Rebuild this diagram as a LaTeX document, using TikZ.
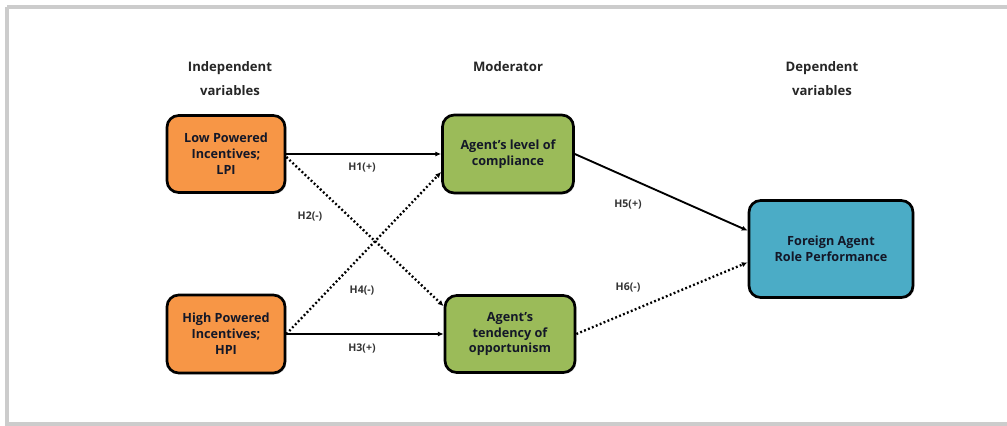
\documentclass[tikz,border=0pt]{standalone}
\usepackage{fontspec}
\setmainfont{Open Sans}
\usepackage{xcolor}
\usetikzlibrary{arrows.meta, positioning, calc, shadows}
\definecolor{ipiorange}{RGB}{247,150,70}
\definecolor{modgreen}{RGB}{155,187,89}
\definecolor{depblue}{RGB}{75,172,198}
\definecolor{framegray}{RGB}{204,204,204}
\definecolor{boxtext}{RGB}{20,24,40}

\begin{document}
\begin{tikzpicture}[
  x=0.03cm, y=-0.03cm,
  var/.style={draw=black, line width=2.3pt, rounded corners=10pt, align=center,
              font=\fontsize{10.8}{13.6}\selectfont\bfseries, text=boxtext,
              drop shadow={shadow xshift=1.2pt, shadow yshift=-1.2pt, opacity=0.35}},
  arrow/.style={-{Latex[length=5pt,width=4.5pt]}, line width=1.6pt, black},
  dotarrow/.style={arrow, dotted, line width=2pt},
  hyp/.style={font=\fontsize{9}{10}\selectfont\bfseries, text=black!80},
  tier/.style={anchor=north, inner sep=0pt, align=center,
               font=\fontsize{11.2}{20.5}\selectfont\bfseries, text=black!85}
]
\useasboundingbox (0,0) rectangle (1007,426);
\draw[framegray, line width=3.5pt] (7,7) -- (1012,7);
\draw[framegray, line width=3.5pt] (7,7) -- (7,424) -- (1012,424);

% Column 1: Incentives
\node[var, fill=ipiorange, minimum width=3.54cm, minimum height=2.31cm] (lpi) at (226,154) {Low Powered\\Incentives;\\LPI};
\node[var, fill=ipiorange, minimum width=3.54cm, minimum height=2.34cm] (hpi) at (226,334) {High Powered\\Incentives;\\HPI};

% Column 2: Moderators
\node[var, fill=modgreen, minimum width=3.93cm, minimum height=2.34cm] (comp) at (508,154) {Agent's level of\\compliance};
\node[var, fill=modgreen, minimum width=3.9cm, minimum height=2.31cm] (opp) at (510,334) {Agent's\\tendency of\\opportunism};

% Column 3: Outcome
\node[var, fill=depblue, minimum width=4.92cm, minimum height=2.91cm] (fa) at (831,249) {Foreign Agent\\Role Performance};

% Arrows
\draw[arrow] (lpi.east) -- (comp.west);
\draw[dotarrow] ([yshift=-0.09cm]lpi.east) -- ([yshift=-0.36cm]opp.north west);
\draw[dotarrow] (hpi.east) -- ([yshift=-0.54cm]comp.west);
\draw[arrow] (hpi.east) -- (opp.west);
\draw[arrow] (comp.east) -- ([yshift=0.55cm]fa.west);
\draw[dotarrow] (opp.east) -- ([yshift=-0.4cm]fa.west);

% Hypothesis labels
\node[hyp] (h1) at (362,168) {H1(+)};
\node[hyp] (h2) at (310,217) {H2(-)};
\node[hyp] (h4) at (362,291) {H4(-)};
\node[hyp] (h3) at (362,349) {H3(+)};
\node[hyp] (h5) at (628,205) {H5(+)};
\node[hyp] (h6) at (628,288) {H6(-)};

% Column labels
\node[tier] (indep) at (230,61) {Independent\\variables};
\node[tier] (moder) at (508,61) {Moderator};
\node[tier] (depen) at (822,61) {Dependent\\variables};

\end{tikzpicture}
\end{document}
